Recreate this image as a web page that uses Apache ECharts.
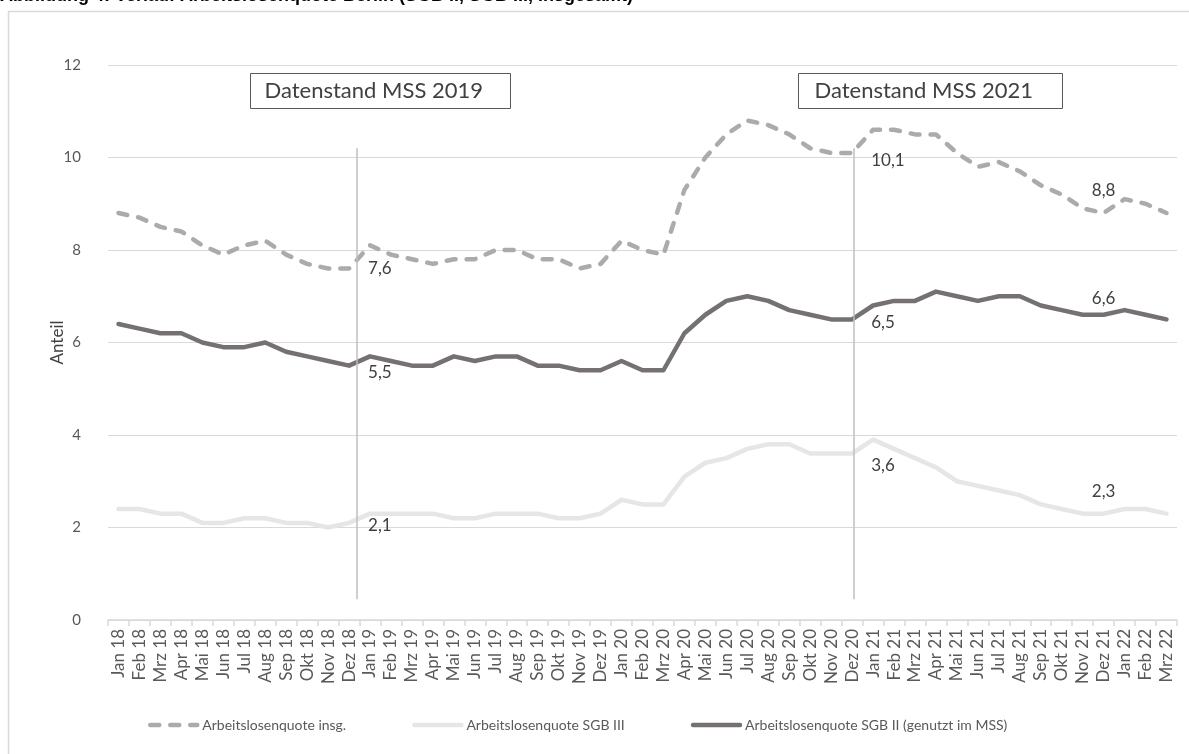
<!DOCTYPE html>
<html>
<head>
<meta charset="utf-8">
<script src="https://cdn.jsdelivr.net/npm/echarts@6/dist/echarts.min.js"></script>
<style>
  html, body { margin: 0; padding: 0; background: #fff; }
  #chart { width: 1189px; height: 754px; }
</style>
</head>
<body>
<div id="chart"></div>
<script>
// Monate Jan 18 .. Mrz 22
const months = [
  'Jan 18', 'Feb 18', 'Mrz 18', 'Apr 18', 'Mai 18', 'Jun 18', 'Jul 18', 'Aug 18', 'Sep 18', 'Okt 18', 'Nov 18', 'Dez 18',
  'Jan 19', 'Feb 19', 'Mrz 19', 'Apr 19', 'Mai 19', 'Jun 19', 'Jul 19', 'Aug 19', 'Sep 19', 'Okt 19', 'Nov 19', 'Dez 19',
  'Jan 20', 'Feb 20', 'Mrz 20', 'Apr 20', 'Mai 20', 'Jun 20', 'Jul 20', 'Aug 20', 'Sep 20', 'Okt 20', 'Nov 20', 'Dez 20',
  'Jan 21', 'Feb 21', 'Mrz 21', 'Apr 21', 'Mai 21', 'Jun 21', 'Jul 21', 'Aug 21', 'Sep 21', 'Okt 21', 'Nov 21', 'Dez 21',
  'Jan 22', 'Feb 22', 'Mrz 22'
]

const quoteInsg = [
  8.8, 8.7, 8.5, 8.4, 8.1, 7.9, 8.1, 8.2, 7.9, 7.7, 7.6, 7.6,
  8.1, 7.9, 7.8, 7.7, 7.8, 7.8, 8.0, 8.0, 7.8, 7.8, 7.6, 7.7,
  8.2, 8.0, 7.9, 9.3, 10.0, 10.5, 10.8, 10.7, 10.5, 10.2, 10.1, 10.1,
  10.6, 10.6, 10.5, 10.5, 10.1, 9.8, 9.9, 9.7, 9.4, 9.2, 8.9, 8.8,
  9.1, 9.0, 8.8
]

const quoteSgb3 = [
  2.4, 2.4, 2.3, 2.3, 2.1, 2.1, 2.2, 2.2, 2.1, 2.1, 2.0, 2.1,
  2.3, 2.3, 2.3, 2.3, 2.2, 2.2, 2.3, 2.3, 2.3, 2.2, 2.2, 2.3,
  2.6, 2.5, 2.5, 3.1, 3.4, 3.5, 3.7, 3.8, 3.8, 3.6, 3.6, 3.6,
  3.9, 3.7, 3.5, 3.3, 3.0, 2.9, 2.8, 2.7, 2.5, 2.4, 2.3, 2.3,
  2.4, 2.4, 2.3
]

const quoteSgb2 = [
  6.4, 6.3, 6.2, 6.2, 6.0, 5.9, 5.9, 6.0, 5.8, 5.7, 5.6, 5.5,
  5.7, 5.6, 5.5, 5.5, 5.7, 5.6, 5.7, 5.7, 5.5, 5.5, 5.4, 5.4,
  5.6, 5.4, 5.4, 6.2, 6.6, 6.9, 7.0, 6.9, 6.7, 6.6, 6.5, 6.5,
  6.8, 6.9, 6.9, 7.1, 7.0, 6.9, 7.0, 7.0, 6.8, 6.7, 6.6, 6.6,
  6.7, 6.6, 6.5
]

const yTicks = [0, 2, 4, 6, 8, 10, 12]

// Datenbeschriftungen: Dez 18 / Dez 20 rechts, Dez 21 oben
const labelRight = [11, 35]
const labelTop = [47]

// Datenstand-Markierungen (Monatsindex)
const standLines = [11.35, 35.1]
const standTexts = ['Datenstand MSS 2019', 'Datenstand MSS 2021']

const fmt = (v) => String(v).replace('.', ',')

// !Label haengt am Symbol, daher unsichtbares Symbol nur an den beschrifteten Punkten
// dyRight: vertikaler Versatz je rechtem Label, topDist: Abstand oberes Label
function withLabels(values, dyRight, topDist) {
  return values.map((v, i) => {
    const pt = { value: v, symbol: 'circle', symbolSize: 0.1 }
    const r = labelRight.indexOf(i)
    if (r >= 0) {
      return { ...pt, label: { show: true, position: 'right', distance: 19, offset: [0, dyRight[r]] } }
    }
    if (labelTop.includes(i)) {
      return { ...pt, label: { show: true, position: 'top', distance: topDist } }
    }
    return v
  })
}

const font = 'Lato, "Open Sans", sans-serif'
const labelStyle = {
  show: false,
  color: '#404040',
  fontSize: 17,
  fontFamily: font,
  formatter: (p) => fmt(p.value)
}

const chart = echarts.init(document.getElementById('chart'))
chart.setOption({
  animation: false,
  backgroundColor: '#fff',
  grid: { left: 108, right: 12, top: 65, bottom: 134 },
  legend: {
    left: 143,
    top: 713,
    itemWidth: 47,
    itemHeight: 14,
    itemGap: 66,
    itemStyle: { opacity: 0 },
    lineStyle: { width: 4.5 },
    textStyle: { color: '#595959', fontSize: 14, fontFamily: font },
    data: ['Arbeitslosenquote insg.', 'Arbeitslosenquote SGB III', 'Arbeitslosenquote SGB II (genutzt im MSS)']
  },
  xAxis: [
    {
      type: 'category',
      data: months,
      boundaryGap: true,
      axisLine: { lineStyle: { color: '#d9d9d9', width: 1.5 } },
      axisTick: { show: true, interval: 0, length: 6, lineStyle: { color: '#d9d9d9', width: 1.5 } },
      axisLabel: { interval: 0, rotate: 90, color: '#595959', fontSize: 17, fontFamily: font, margin: 9 }
    },
    { type: 'value', min: -0.5, max: months.length - 0.5, show: false }
  ],
  yAxis: {
    type: 'value',
    min: yTicks[0],
    max: yTicks[yTicks.length - 1],
    interval: 2,
    name: 'Anteil',
    nameLocation: 'middle',
    nameGap: 42,
    nameMoveOverlap: false,
    nameTextStyle: { color: '#404040', fontSize: 17, fontFamily: font },
    axisLine: { show: false },
    axisTick: { show: false },
    axisLabel: { color: '#595959', fontSize: 15, fontFamily: font, margin: 27 },
    splitLine: { lineStyle: { color: '#d9d9d9', width: 1.2 } }
  },
  series: [
    {
      name: 'Arbeitslosenquote insg.',
      type: 'line',
      symbol: 'none',
      data: withLabels(quoteInsg, [0, 8], 14),
      label: labelStyle,
      lineStyle: { color: '#aeaaaa', width: 4.5, type: [9, 11], cap: 'round', join: 'round' },
      itemStyle: { color: '#aeaaaa' },
      z: 3
    },
    {
      name: 'Arbeitslosenquote SGB III',
      type: 'line',
      symbol: 'none',
      data: withLabels(quoteSgb3, [3, 12], 14),
      label: labelStyle,
      lineStyle: { color: '#e7e6e6', width: 4.5, cap: 'round', join: 'round' },
      itemStyle: { color: '#e7e6e6' },
      z: 2
    },
    {
      name: 'Arbeitslosenquote SGB II (genutzt im MSS)',
      type: 'line',
      symbol: 'none',
      data: withLabels(quoteSgb2, [7, 3], 8),
      label: labelStyle,
      lineStyle: { color: '#757171', width: 4.5, cap: 'round', join: 'round' },
      itemStyle: { color: '#757171' },
      z: 4
    },
    {
      type: 'line',
      xAxisIndex: 1,
      data: [],
      silent: true,
      markLine: {
        symbol: 'none',
        silent: true,
        label: { show: false },
        lineStyle: { color: '#bfbfbf', width: 1.5, type: 'solid' },
        data: standLines.map((x) => [{ coord: [x, 0.45] }, { coord: [x, 10.2] }])
      },
      z: 1
    }
  ],
  graphic: [
    // Rahmen
    {
      type: 'rect',
      shape: { x: 8.5, y: 11.5, width: 1300, height: 900 },
      style: { fill: null, stroke: '#d9d9d9', lineWidth: 1.5 },
      silent: true
    },
    // angeschnittene Ueberschrift
    {
      type: 'text',
      left: 0,
      top: -13,
      style: {
        text: 'Abbildung 4: Verlauf Arbeitslosenquote Berlin (SGB II, SGB III, insgesamt)',
        fill: '#000',
        font: 'bold 18px "Liberation Sans", Arial, sans-serif'
      }
    },
    // Datenstand-Kaesten
    {
      type: 'group',
      left: 250,
      top: 73,
      children: [
        { type: 'rect', shape: { x: 0, y: 0, width: 260, height: 35 }, style: { fill: '#fff', stroke: '#595959', lineWidth: 1 } },
        { type: 'text', x: 14, y: 17.5, style: { text: standTexts[0], fill: '#404040', font: '22px Lato, "Open Sans", sans-serif', verticalAlign: 'middle' } }
      ]
    },
    {
      type: 'group',
      left: 798,
      top: 73,
      children: [
        { type: 'rect', shape: { x: 0, y: 0, width: 264, height: 35 }, style: { fill: '#fff', stroke: '#595959', lineWidth: 1 } },
        { type: 'text', x: 16, y: 17.5, style: { text: standTexts[1], fill: '#404040', font: '22px Lato, "Open Sans", sans-serif', verticalAlign: 'middle' } }
      ]
    }
  ]
})
</script>
</body>
</html>
